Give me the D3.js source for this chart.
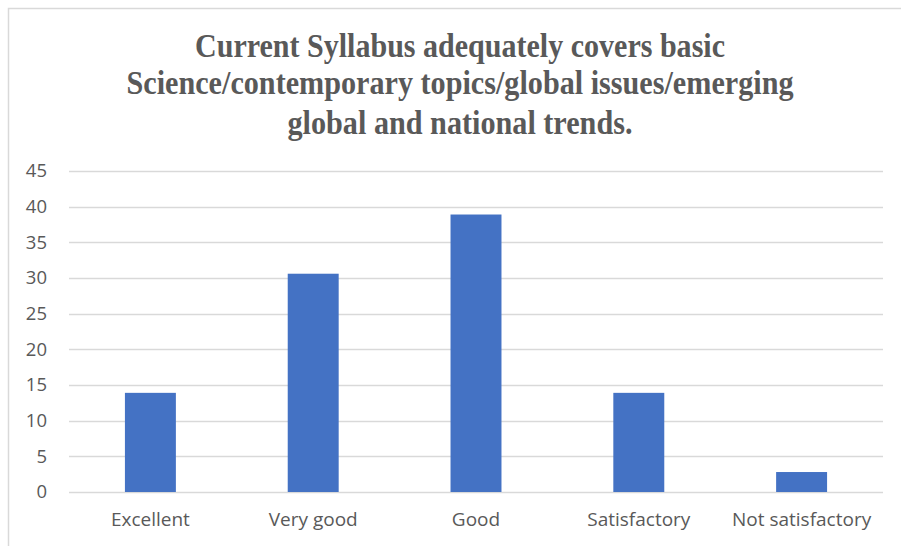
<!DOCTYPE html>
<html>
<head>
<meta charset="utf-8">
<script src="https://cdn.jsdelivr.net/npm/d3@7"></script>
<style>
  body { margin: 0; background: #fff; }
  svg { display: block; }
</style>
</head>
<body>
<div id="chart"></div>
<script>
  // chart data
  var categories = ['Excellent', 'Very good', 'Good', 'Satisfactory', 'Not satisfactory'];
  var values = [13.9, 30.6, 38.9, 13.9, 2.8];
  var yTicks = [0, 5, 10, 15, 20, 25, 30, 35, 40, 45];
  var titleLines = [
    'Current Syllabus adequately covers basic',
    'Science/contemporary topics/global issues/emerging',
    'global and national trends.'
  ];

  var W = 901, H = 546;
  var margin = { top: 171, right: 18, bottom: 54, left: 69 };
  var width = W - margin.left - margin.right;
  var height = H - margin.top - margin.bottom;

  var svg = d3.select('#chart').append('svg')
    .attr('width', W)
    .attr('height', H);

  // chart border (top + left visible)
  svg.append('path')
    .attr('d', 'M8.5,' + H + 'V8.5H' + W)
    .attr('fill', 'none')
    .attr('stroke', '#d9d9d9')
    .attr('stroke-width', 1.5);

  // title
  var titleWidths = [530, 667, 345];
  svg.append('g').selectAll('text')
    .data(titleLines)
    .enter().append('text')
    .attr('x', 460)
    .attr('y', function(d, i) { return [57, 94, 134][i]; })
    .attr('text-anchor', 'middle')
    .attr('textLength', function(d, i) { return titleWidths[i]; })
    .attr('lengthAdjust', 'spacingAndGlyphs')
    .style('font-family', '"Liberation Serif", "Times New Roman", serif')
    .style('font-weight', 'bold')
    .style('font-size', '33px')
    .style('fill', '#595959')
    .text(function(d) { return d; });

  var g = svg.append('g')
    .attr('transform', 'translate(' + margin.left + ',' + margin.top + ')');

  var x = d3.scaleBand()
    .domain(categories)
    .range([0, width])
    .paddingInner(0.687)
    .paddingOuter(0.3435);

  var y = d3.scaleLinear()
    .domain([0, 45])
    .range([height, 0]);

  // gridlines
  g.selectAll('.grid')
    .data(yTicks)
    .enter().append('line')
    .attr('class', 'grid')
    .attr('x1', 0)
    .attr('x2', width)
    .attr('y1', function(d) { return Math.round(y(d)) + 0.5; })
    .attr('y2', function(d) { return Math.round(y(d)) + 0.5; })
    .attr('stroke', '#d9d9d9')
    .attr('stroke-width', 1.3);

  // bars
  g.selectAll('.bar')
    .data(values)
    .enter().append('rect')
    .attr('class', 'bar')
    .attr('x', function(d, i) { return x(categories[i]); })
    .attr('y', function(d) { return y(d); })
    .attr('width', x.bandwidth())
    .attr('height', function(d) { return height - y(d); })
    .attr('fill', '#4472c4');

  // y axis
  var yAxis = d3.axisLeft(y).tickValues(yTicks).tickSize(0).tickPadding(22);
  g.append('g')
    .call(yAxis)
    .call(function(s) { s.select('.domain').remove(); })
    .selectAll('text')
    .style('font-family', '"Open Sans", sans-serif')
    .style('font-size', '18.5px')
    .style('fill', '#595959');

  // x axis
  var xAxis = d3.axisBottom(x).tickSize(0).tickPadding(21);
  g.append('g')
    .attr('transform', 'translate(0,' + height + ')')
    .call(xAxis)
    .call(function(s) { s.select('.domain').remove(); })
    .selectAll('text')
    .style('font-family', '"Open Sans", sans-serif')
    .style('font-size', '19px')
    .style('fill', '#595959');
</script>
</body>
</html>
